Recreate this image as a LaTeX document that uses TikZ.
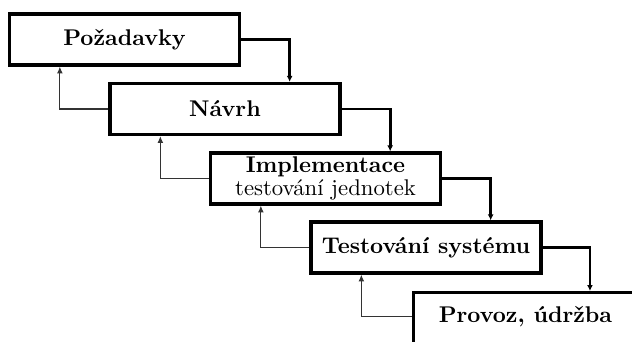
\documentclass[tikz,border=0pt]{standalone}
\usepackage{fontspec}
\usetikzlibrary{arrows.meta}
\tikzset{
  phase/.style={draw, line width=1.5pt, minimum width=101.2pt, minimum height=22.4pt,
    inner sep=0pt, align=center, font=\bfseries, fill=white},
  label/.style={inner sep=0pt, font=\bfseries},
  fwd/.style={line width=1.25pt, -{Latex[length=2.6pt,width=2.6pt]}},
  back/.style={line width=0.45pt, draw=black!80, -{Latex[length=3pt,width=2.6pt]}}
}
\begin{document}
\begin{tikzpicture}[x=0.44pt,y=-0.44pt]
\clip (0,0) rectangle (632,341);
\useasboundingbox (0,0) rectangle (632,341);
\node[phase] (b1) at (124.5,39.5) {Požadavky};
\node[phase] (b2) at (225,109) {Návrh};
\node[phase] (b3) at (325.5,178.5) {Implementace\\[-1.5pt]\mdseries testování jednotek};
\node[phase] (b4) at (426,247.5) {Testování systému};
\node[phase, minimum width=114pt, minimum height=30pt, anchor=north west] (b5) at (412,291) {};
\node[label] (t5) at (525.5,316.5) {Provoz, údržba};
\draw[fwd] (b1.east) -| ([xshift=-22.9pt]b2.north east);
\draw[fwd] (b2.east) -| ([xshift=-22.9pt]b3.north east);
\draw[fwd] (b3.east) -| ([xshift=-22.9pt]b4.north east);
\draw[fwd] (b4.east) -| ([xshift=78.3pt]b5.north west);
\draw[back] (b2.west) -| ([xshift=22.9pt]b1.south west);
\draw[back] (b3.west) -| ([xshift=22.9pt]b2.south west);
\draw[back] (b4.west) -| ([xshift=22.9pt]b3.south west);
\draw[back] (t5 -| b5.west) -| ([xshift=22.9pt]b4.south west);
\end{tikzpicture}
\end{document}
